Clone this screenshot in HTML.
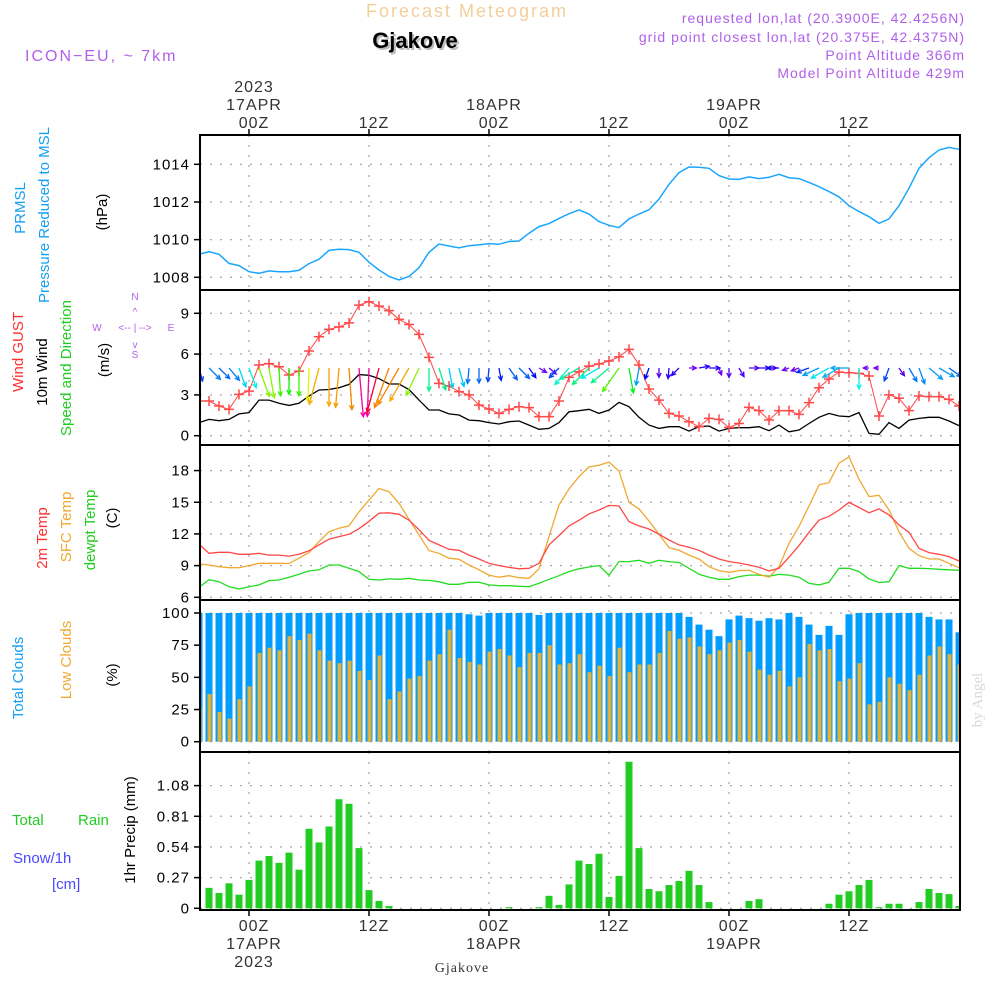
<!DOCTYPE html>
<html><head><meta charset="utf-8">
<style>
html,body{margin:0;padding:0;background:#fff;}
svg{display:block;font-family:"Liberation Sans",sans-serif;}
</style></head>
<body>
<svg id="chart" width="1000" height="1000" viewBox="0 0 1000 1000" xmlns="http://www.w3.org/2000/svg">
<defs>
<clipPath id="c1"><rect x="200" y="135" width="760" height="155"/></clipPath>
<clipPath id="c2"><rect x="200" y="290" width="760" height="155"/></clipPath>
<clipPath id="c3"><rect x="200" y="445" width="760" height="155"/></clipPath>
<clipPath id="c4"><rect x="200" y="600" width="760" height="152"/></clipPath>
<clipPath id="c5"><rect x="200" y="752" width="760" height="158"/></clipPath>
</defs>
<text x="467" y="17" text-anchor="middle" font-size="18" fill="#f3cf9a" letter-spacing="2">Forecast Meteogram</text>
<text x="417" y="50" text-anchor="middle" font-size="22" font-weight="bold" fill="#bbb">Gjakove</text>
<text x="415" y="48" text-anchor="middle" font-size="22" font-weight="bold" fill="#000">Gjakove</text>
<g fill="#b060e8" font-size="14" text-anchor="end" letter-spacing="1">
<text x="965" y="23">requested lon,lat (20.3900E, 42.4256N)</text>
<text x="965" y="42">grid point closest lon,lat (20.375E, 42.4375N)</text>
<text x="965" y="60">Point Altitude 366m</text>
<text x="965" y="78">Model Point Altitude 429m</text>
</g>
<text x="25" y="61" font-size="16" fill="#b060e8" letter-spacing="2">ICON−EU, ~ 7km</text>

<g id="grid"></g>
<g id="marks"></g>
<g id="frames" fill="none" stroke="#000" stroke-width="2"></g>
<g id="labels"></g>

<g font-size="15">
<text transform="translate(25,208) rotate(-90)" text-anchor="middle" fill="#14a0f0">PRMSL</text>
<text transform="translate(49,215) rotate(-90)" text-anchor="middle" fill="#14a0f0">Pressure Reduced to MSL</text>
<text transform="translate(107,212) rotate(-90)" text-anchor="middle" fill="#000">(hPa)</text>
<text transform="translate(23,352) rotate(-90)" text-anchor="middle" fill="#ff3030">Wind GUST</text>
<text transform="translate(47,372) rotate(-90)" text-anchor="middle" fill="#000">10m Wind</text>
<text transform="translate(71,368) rotate(-90)" text-anchor="middle" fill="#22cc22">Speed and Direction</text>
<text transform="translate(109,360) rotate(-90)" text-anchor="middle" fill="#000">(m/s)</text>
<text transform="translate(47,538) rotate(-90)" text-anchor="middle" fill="#ff3030">2m Temp</text>
<text transform="translate(71,527) rotate(-90)" text-anchor="middle" fill="#f0a830">SFC Temp</text>
<text transform="translate(95,530) rotate(-90)" text-anchor="middle" fill="#22cc22">dewpt Temp</text>
<text transform="translate(117,518) rotate(-90)" text-anchor="middle" fill="#000">(C)</text>
<text transform="translate(23,678) rotate(-90)" text-anchor="middle" fill="#14a0f0">Total Clouds</text>
<text transform="translate(71,660) rotate(-90)" text-anchor="middle" fill="#f0a830">Low Clouds</text>
<text transform="translate(117,675) rotate(-90)" text-anchor="middle" fill="#000">(%)</text>
<text x="12" y="825" fill="#22cc22">Total</text><text x="78" y="825" fill="#22cc22">Rain</text>
<text x="13" y="863" fill="#4848ff">Snow/1h</text>
<text x="52" y="889" fill="#4848ff">[cm]</text>
<text transform="translate(135,830) rotate(-90)" text-anchor="middle" fill="#000">1hr Precip (mm)</text>
</g>
<g fill="#b060e8" font-size="10" text-anchor="middle">
<text x="97" y="331">W</text><text x="171" y="331">E</text><text x="135" y="300">N</text><text x="135" y="358">S</text>
<text x="135" y="331">&lt;-- | --&gt;</text>
<text x="135" y="315">^</text><text x="135" y="348">v</text>
</g>
<text transform="translate(982,700) rotate(-90)" text-anchor="middle" font-family="Liberation Serif,serif" font-size="15" fill="#d8d8d8">by Angel</text>
<text x="462" y="972" text-anchor="middle" font-family="Liberation Serif,serif" font-size="14" fill="#333" letter-spacing="1">Gjakove</text>
</svg>
<script>
const hours=[];for(let h=-5;h<=71;h++)hours.push(h);
const pressure=[1009.22,1009.36,1009.22,1008.74,1008.62,1008.3,
1008.21,1008.34,1008.3,1008.3,1008.37,1008.73,1008.96,1009.43,1009.49,1009.47,
1009.33,1008.8,1008.39,1008.05,1007.86,1008.04,1008.51,1009.33,1009.77,1009.66,
1009.56,1009.68,1009.72,1009.79,1009.75,1009.9,1009.93,1010.34,1010.69,1010.85,
1011.13,1011.38,1011.58,1011.36,1010.96,1010.76,1010.64,1011.1,1011.36,1011.59,
1012.16,1012.94,1013.56,1013.86,1013.84,1013.79,1013.4,1013.22,1013.2,1013.33,
1013.24,1013.31,1013.47,1013.29,1013.24,1013.04,1012.81,1012.55,1012.27,1011.8,
1011.49,1011.22,1010.87,1011.1,1011.8,1012.73,1013.79,1014.35,1014.76,1014.9,1014.8];
const gust=[2.55,2.55,2.18,1.94,3.04,3.28,
5.2,5.3,5.07,4.46,4.75,6.23,7.28,7.82,8.0,8.3,
9.6,9.85,9.53,9.2,8.55,8.18,7.45,5.76,3.85,3.65,
3.24,3.0,2.25,1.96,1.64,1.94,2.13,2.06,1.4,1.4,
2.55,4.29,4.7,5.12,5.27,5.49,5.8,6.35,5.2,3.43,
2.62,1.64,1.45,1.03,0.66,1.27,1.2,0.6,0.9,2.08,
1.84,1.15,1.84,1.84,1.57,2.43,3.53,4.17,4.68,4.63,
4.58,4.39,1.45,3.0,2.75,1.84,2.92,2.87,2.87,2.67,2.18];
const wind10=[0.96,1.2,1.1,1.2,1.6,1.7,
2.62,2.62,2.38,2.23,2.38,2.92,3.36,3.4,3.53,3.77,
4.49,4.44,4.2,3.8,3.8,3.4,2.62,1.89,1.89,1.6,
1.52,1.15,1.1,0.96,0.86,1.03,1.08,0.78,0.47,0.54,
0.96,1.76,1.84,1.94,1.64,1.89,2.45,2.13,1.35,0.78,
0.54,0.66,0.66,0.34,0.66,0.71,0.34,0.54,0.59,0.59,
0.66,0.37,0.78,0.29,0.42,0.9,1.35,1.64,1.45,1.4,
1.7,0.17,0.1,0.96,0.54,1.15,1.27,1.35,1.35,1.08,0.74];
const windDir=[165,135,135,140,160,160,
160,170,177,180,180,182,195,180,185,176,
175,182,195,200,210,210,205,180,163,170,
165,185,180,185,170,145,135,145,120,130,
225,220,240,225,240,230,215,170,190,200,
180,185,225,90,80,90,160,180,150,90,
90,90,270,250,250,250,245,240,240,270,
180,270,270,200,145,150,160,130,120,125,120];
const t2m=[11.05,10.17,10.26,10.26,10.07,10.07,
10.17,10.0,10.0,9.9,10.07,10.4,10.96,11.5,11.75,11.97,
12.5,13.2,13.96,14.0,13.86,13.3,12.4,11.4,10.96,10.55,
10.45,10.0,9.63,9.22,9.0,8.84,8.7,8.75,9.22,10.96,
11.84,12.76,13.3,13.9,14.27,14.7,14.65,13.17,12.76,12.47,
11.97,11.43,10.96,10.74,10.45,10.0,9.63,9.38,9.25,9.06,
8.84,8.5,8.75,9.8,10.9,12.16,13.3,13.67,14.27,15.0,
14.5,14.0,14.37,13.8,12.85,12.16,10.64,10.23,10.07,9.85,9.44];
const tsfc=[9.16,9.06,8.9,8.8,8.8,9.0,
9.22,9.22,9.22,9.2,9.7,10.23,11.27,12.2,12.54,12.76,
14.1,15.2,16.3,16.0,14.9,13.4,11.9,10.42,10.17,9.7,
9.6,9.06,8.6,8.1,7.9,8.05,7.86,7.8,8.7,11.75,
14.75,16.26,17.43,18.35,18.5,18.8,17.95,15.0,14.37,13.23,
11.97,10.7,10.45,10.0,9.63,8.9,8.53,8.37,8.53,8.56,
8.18,7.9,8.9,11.1,12.7,14.65,16.64,16.86,18.7,19.3,
17.18,15.54,15.66,14.27,12.2,10.64,9.95,9.63,9.63,9.22,8.8];
const tdew=[6.95,7.67,7.48,7.0,6.8,7.0,
7.17,7.58,7.64,7.9,8.18,8.5,8.6,9.06,9.06,8.75,
8.43,7.7,7.64,7.74,7.7,7.8,7.64,7.6,7.48,7.23,
7.23,7.42,7.42,7.17,7.1,7.1,7.04,7.0,7.33,7.7,
8.05,8.43,8.7,8.87,9.0,8.1,9.38,9.38,9.5,9.22,
9.5,9.38,9.3,8.75,8.18,7.9,7.7,7.7,7.96,8.1,
8.1,8.0,8.18,8.1,7.9,7.33,7.17,7.42,8.75,8.75,
8.43,7.74,7.4,7.48,9.0,8.75,8.75,8.72,8.65,8.6,8.56];
const cloudTotal=[100,100,100,100,100,100,
100,100,100,100,100,100,100,100,100,100,
100,100,100,100,100,100,100,100,100,100,
100,99,98,100,100,100,100,100,98.5,100,
100,100,100,100,100,100,100,100,100,100,
100,100,100,97,91,87,82,95,98,96,
94,96,95,100,97,91,83,90,83,99,
100,100,100,100,100,100,100,97,95,95,85];
const cloudLow=[26,37,23,18,33,43,
69,73,71,82,79,84,71,63,61,63,
55,48,67,33,39,49,51,63,68,87,
65,62,60,70,72,67,58,69,69,75,
60,61,68,54,59,51,73,54,60,60,
69,86,80,81,74,68,71,77,79,70,
56,52,55,43,50,76,71,72,47,49,
61,29,31,50,45,40,52,67,74,68,60];
const precip=[0,0.18,0.135,0.22,0.12,0.25,
0.42,0.46,0.40,0.49,0.34,0.70,0.58,0.72,0.96,0.92,
0.53,0.16,0.065,0.02,0,0,0,0,0,0,
0,0,0,0,0,0.01,0,0,0.01,0.11,
0.03,0.21,0.42,0.39,0.48,0.10,0.285,1.29,0.53,0.17,
0.15,0.205,0.24,0.33,0.205,0.055,0,0,0,0.065,
0.08,0,0,0,0,0,0,0.04,0.12,0.15,
0.205,0.25,0.01,0.04,0.04,0,0.055,0.17,0.135,0.125,0.02];
const pTicks=[1008,1010,1012,1014];
const wTicks=[0,3,6,9];
const tTicks=[6,9,12,15,18];
const cTicks=[0,25,50,75,100];
const rTicks=[0,0.27,0.54,0.81,1.08];
const timeTicks=[0,12,24,36,48,60];
const timeTopLabels=[["2023","17APR","00Z"],["","","12Z"],["","18APR","00Z"],["","","12Z"],["","19APR","00Z"],["","","12Z"]];
const timeBottomLabels=[["00Z","17APR","2023"],["12Z","",""],["00Z","18APR",""],["12Z","",""],["00Z","19APR",""],["12Z","",""]];

const NS="http://www.w3.org/2000/svg";
const X=h=>249+10*h;
const Yp=v=>277.3-(v-1008)*18.83;
const Yw=v=>435.7-v*13.6;
const Yt=v=>597.3-(v-6)*10.56;
const Yc=v=>741.7-v*1.287;
const Yr=v=>908.3-v*113.6;
const panels=[{top:135,bot:290,clip:'c1',ticks:pTicks,y:Yp,fmt:v=>v,name:'pressure'},
{top:290,bot:445,clip:'c2',ticks:wTicks,y:Yw,fmt:v=>v,name:'wind'},
{top:445,bot:600,clip:'c3',ticks:tTicks,y:Yt,fmt:v=>v,name:'temp'},
{top:600,bot:752,clip:'c4',ticks:cTicks,y:Yc,fmt:v=>v,name:'clouds'},
{top:752,bot:910,clip:'c5',ticks:rTicks,y:Yr,fmt:v=>v.toFixed(2).replace(/^0\./,'0.').replace(/^0\.00$/,'0').replace(/^1\.08$/,'1.08'),name:'precip'}];
function mk(tag,attrs,parent){const e=document.createElementNS(NS,tag);for(const k in attrs)e.setAttribute(k,attrs[k]);parent.appendChild(e);return e;}
const grid=document.getElementById('grid'),marks=document.getElementById('marks'),frames=document.getElementById('frames'),labels=document.getElementById('labels');

panels.forEach(p=>{
  p.ticks.forEach(v=>{
    const y=p.y(v);
    const g=mk('line',{x1:200,x2:960,y1:y,y2:y,stroke:'#aaa','stroke-width':1.3,'stroke-dasharray':'2,8'},grid);
    
    
    const tk=mk('line',{x1:194,x2:200,y1:y,y2:y,stroke:'#000','stroke-width':1.5},frames);
    
    
    const t=mk('text',{x:190,y:y+5,'text-anchor':'end','font-size':15,fill:'#000','letter-spacing':1},labels);
    t.textContent=(p.name==='precip'&&v===0)?'0':(p.name==='precip'?v.toFixed(2):String(v));
    
    
  });
  timeTicks.forEach(h=>{
    const x=X(h);
    const g=mk('line',{x1:x,x2:x,y1:p.top,y2:p.bot,stroke:'#aaa','stroke-width':1.3,'stroke-dasharray':'2,8'},grid);
    
    
  });
  const r=mk('rect',{x:200,y:p.top,width:760,height:p.bot-p.top},frames);
  
  
});
timeTicks.forEach((h,i)=>{
  const x=X(h);
  const a=mk('line',{x1:x,x2:x,y1:129,y2:135,stroke:'#000','stroke-width':1.5},frames);
  
  
  const b=mk('line',{x1:x,x2:x,y1:910,y2:916,stroke:'#000','stroke-width':1.5},frames);
  
  
  timeTopLabels[i].forEach((s,j)=>{if(!s)return;
    const t=mk('text',{x:x+5,y:92+j*18,'text-anchor':'middle','font-size':16,fill:'#333','letter-spacing':1},labels);
    t.textContent=s;
    
    });
  timeBottomLabels[i].forEach((s,j)=>{if(!s)return;
    const t=mk('text',{x:x+5,y:931+j*18,'text-anchor':'middle','font-size':16,fill:'#333','letter-spacing':1},labels);
    t.textContent=s;
    
    });
});

function line(arr,yf,color,clip,name,w){
  const pts=arr.map((v,i)=>X(hours[i]).toFixed(1)+','+yf(v).toFixed(1)).join(' ');
  const pl=mk('polyline',{points:pts,fill:'none',stroke:color,'stroke-width':w||1.3,'clip-path':'url(#'+clip+')'},marks);
  
  
  return pl;
}
// pressure
line(pressure,Yp,'#1aa6ff','c1','pressure-line',1.5);
// wind
line(wind10,Yw,'#000','c2','wind10-line',1.3);
line(gust,Yw,'#ff4848','c2','gust-line',1);
function speedColor(s){
  const stops=[[0,270],[0.5,265],[1.0,220],[1.6,188],[2.2,120],[2.7,80],[3.2,45],[3.9,30],[4.4,320],[5,310]];
  let hue=stops[stops.length-1][1];
  for(let i=0;i<stops.length-1;i++){if(s>=stops[i][0]&&s<=stops[i+1][0]){const f=(s-stops[i][0])/(stops[i+1][0]-stops[i][0]);let a=stops[i][1],b=stops[i+1][1];if(b>a+180)a+=360;if(a>b+180)b+=360;hue=(a+(b-a)*f)%360;break;}}
  return 'hsl('+hue+',100%,48%)';
}
gust.forEach((v,i)=>{
  const x=X(hours[i]),y=Yw(v);
  const g=mk('path',{d:`M${x-5},${y}H${x+5}M${x},${y-5}V${y+5}`,stroke:'#ff4848','stroke-width':1.5,'clip-path':'url(#c2)'},marks);
  
  
});
windDir.forEach((d,i)=>{
  const s=wind10[i];const L=4+s*10;const rad=d*Math.PI/180;
  const x0=X(hours[i]),y0=368;
  const x1=x0+L*Math.sin(rad),y1=y0-L*Math.cos(rad);
  const ang=Math.atan2(y1-y0,x1-x0);
  const hx1=x1-5*Math.cos(ang-0.45),hy1=y1-5*Math.sin(ang-0.45);
  const hx2=x1-5*Math.cos(ang+0.45),hy2=y1-5*Math.sin(ang+0.45);
  const a=mk('path',{d:`M${x0.toFixed(1)},${y0}L${x1.toFixed(1)},${y1.toFixed(1)}M${hx1.toFixed(1)},${hy1.toFixed(1)}L${x1.toFixed(1)},${y1.toFixed(1)}L${hx2.toFixed(1)},${hy2.toFixed(1)}`,fill:'none',stroke:speedColor(s),'stroke-width':1.3,'clip-path':'url(#c2)'},marks);
  
  
});
// temps
line(tdew,Yt,'#22dd22','c3','dewpoint-line',1.3);
line(tsfc,Yt,'#f0a830','c3','sfc-temp-line',1.3);
line(t2m,Yt,'#ff4848','c3','temp-2m-line',1.3);
// clouds
cloudTotal.forEach((v,i)=>{
  const x=X(hours[i]);
  const b=mk('rect',{x:x-3.5,y:Yc(v),width:7,height:Yc(0)-Yc(v),fill:'#009dff','clip-path':'url(#c4)'},marks);
  
  
});
cloudLow.forEach((v,i)=>{
  const x=X(hours[i]);
  const b=mk('rect',{x:x-1.5,y:Yc(v),width:4,height:Yc(0)-Yc(v),fill:'#e6b030','clip-path':'url(#c4)'},marks);
  
  
});
// precip
precip.forEach((v,i)=>{
  if(v<=0)return;
  const x=X(hours[i]);
  const b=mk('rect',{x:x-3.5,y:Yr(v),width:7,height:Yr(0)-Yr(v),fill:'#22cc22','clip-path':'url(#c5)'},marks);
  
  
});
</script>
</body></html>
